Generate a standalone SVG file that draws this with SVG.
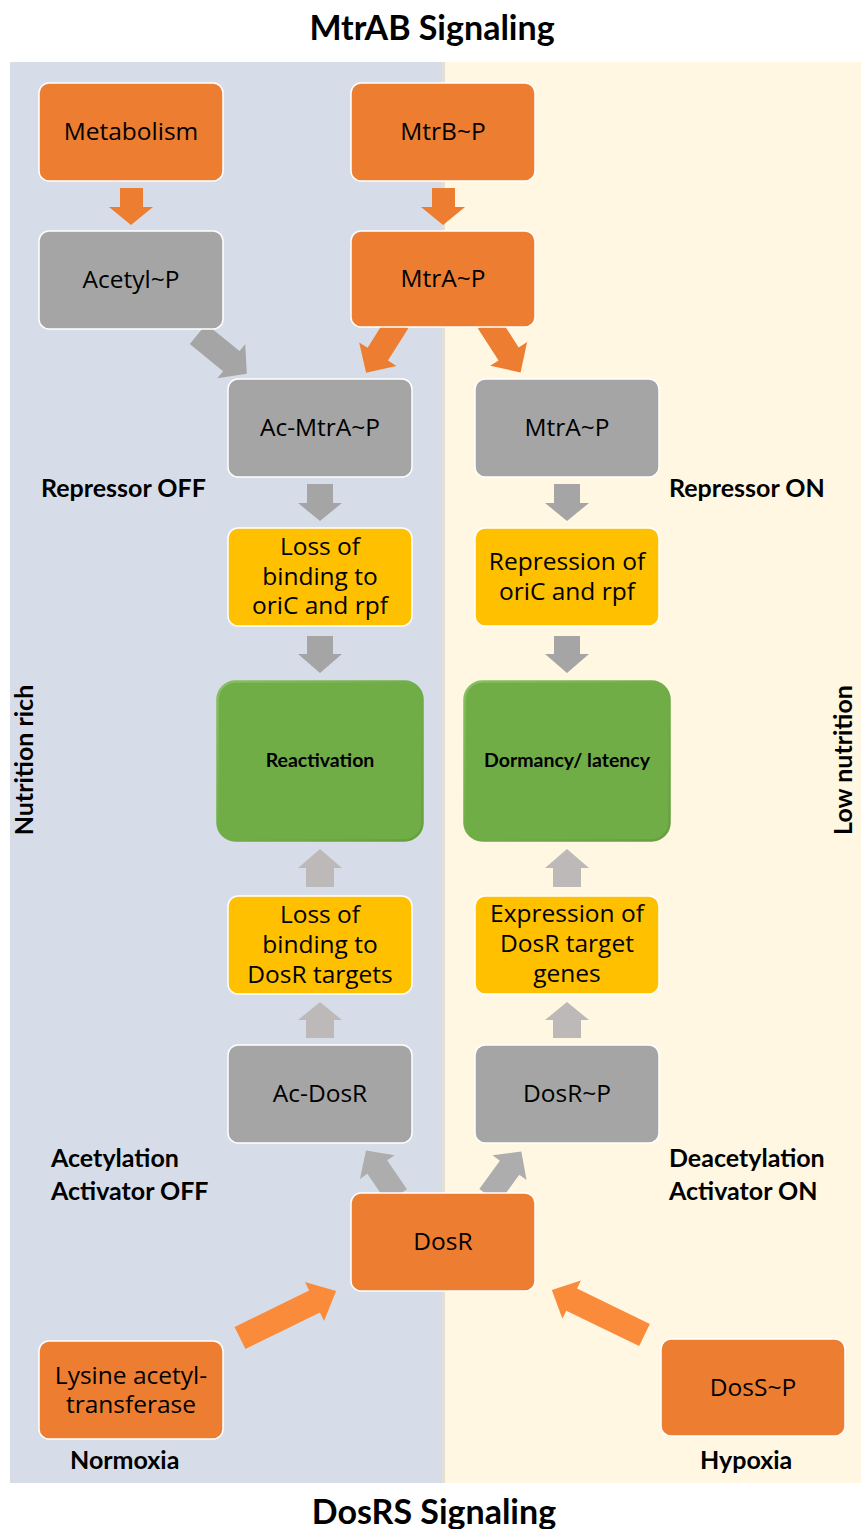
<svg xmlns="http://www.w3.org/2000/svg" width="861" height="1529" viewBox="0 0 861 1529">
<defs>
<linearGradient id="bevel" x1="0" y1="0" x2="1" y2="1">
<stop offset="0" stop-color="#86C060"/>
<stop offset="0.5" stop-color="#70AD47"/>
<stop offset="1" stop-color="#64A03C"/>
</linearGradient>
</defs>
<style>
.box{stroke:#FFFFFF;stroke-width:1.5}
.or{fill:#ED7D31}
.gy{fill:#A5A5A5}
.yl{fill:#FFC000}
.gn{fill:#70AD47;stroke:url(#bevel);stroke-width:2.5}
.t{font-family:"Open Sans","Liberation Sans",sans-serif;font-size:24.5px;fill:#000;text-anchor:middle}
.tb{font-family:Lato,"Liberation Sans",sans-serif;font-weight:bold;font-size:19.5px;fill:#000;text-anchor:middle}
.lb{font-family:Lato,"Liberation Sans",sans-serif;font-weight:bold;font-size:25px;fill:#000}
.title{font-family:Lato,"Liberation Sans",sans-serif;font-weight:bold;font-size:34px;fill:#000;text-anchor:middle}
.ao{fill:#ED7D31}
.ao2{fill:#F98B3B}
.ag{fill:#A5A5A5}
.ag2{fill:#ADADAD}
.au{fill:#BDB9B9}
</style>
<rect x="0" y="0" width="861" height="1529" fill="#FFFFFF"/>
<g id="panels">
<rect x="10" y="62" width="434" height="1421" fill="#D7DDE8"/>
<rect x="444" y="62" width="417" height="1421" fill="#FFF7E2"/>
<rect x="442" y="62" width="3" height="1421" fill="#E3E1D6"/>
</g>
<text class="title" x="432" y="40">MtrAB Signaling</text>
<text class="title" x="434" y="1524">DosRS Signaling</text>
<text class="lb" transform="translate(33,760) rotate(-90)" text-anchor="middle">Nutrition rich</text>
<text class="lb" transform="translate(852,760) rotate(-90)" text-anchor="middle">Low nutrition</text>
<text class="lb" x="41" y="497">Repressor OFF</text>
<text class="lb" x="669" y="497">Repressor ON</text>
<text class="lb" x="51" y="1167">Acetylation</text>
<text class="lb" x="51" y="1200">Activator OFF</text>
<text class="lb" x="669" y="1167">Deacetylation</text>
<text class="lb" x="669" y="1200">Activator ON</text>
<text class="lb" x="70" y="1469">Normoxia</text>
<text class="lb" x="700" y="1469">Hypoxia</text>
<g id="connectors">
<polygon class="ao" points="120,188 143,188 143,207 153,207 131,225 109,207 120,207"/>
<polygon class="ao" points="432,188 455,188 455,207 465,207 443,225 421,207 432,207"/>
<polygon class="ag" transform="translate(198,334) rotate(39.2)" points="0,-13 43,-13 43,-22 63,0 43,22 43,13 0,13"/>
<polygon class="ao" transform="translate(398,322) rotate(122.1)" points="0,-12 38,-12 38,-22 60,0 38,22 38,12 0,12"/>
<polygon class="ao" transform="translate(488,322) rotate(57.1)" points="0,-12 38,-12 38,-22 60,0 38,22 38,12 0,12"/>
<polygon class="ag" points="307,484 333,484 333,503 342,503 320,521 298,503 307,503"/>
<polygon class="ag" points="554,484 580,484 580,503 589,503 567,521 545,503 554,503"/>
<polygon class="ag" points="307,636 333,636 333,654 342,654 320,673 298,654 307,654"/>
<polygon class="ag" points="554,636 580,636 580,654 589,654 567,673 545,654 554,654"/>
<polygon class="au" points="306,887 334,887 334,868 342,868 320,849 298,868 306,868"/>
<polygon class="au" points="553,887 581,887 581,868 589,868 567,849 545,868 553,868"/>
<polygon class="au" points="306,1038 334,1038 334,1020 342,1020 320,1002 298,1020 306,1020"/>
<polygon class="au" points="553,1038 581,1038 581,1020 589,1020 567,1002 545,1020 553,1020"/>
<polygon class="ag2" transform="translate(397,1196) rotate(-124.3)" points="0,-12 35,-12 35,-21 55,0 35,21 35,12 0,12"/>
<polygon class="ag2" transform="translate(489,1196) rotate(-54)" points="0,-12 35,-12 35,-21 55,0 35,21 35,12 0,12"/>
<polygon class="ao2" transform="translate(240,1338) rotate(-26.1)" points="0,-12.3 83,-12.3 83,-21.7 107,0 83,21.7 83,12.3 0,12.3"/>
<polygon class="ao2" transform="translate(644.5,1335) rotate(-154.1)" points="0,-12.3 81,-12.3 81,-21.2 103,0 81,21.2 81,12.3 0,12.3"/>
</g>
<g id="metabolism"><rect class="box or" x="39" y="83" width="184" height="98" rx="10"/><text class="t" x="131" y="140">Metabolism</text></g>
<g id="mtrb-p"><rect class="box or" x="351" y="83" width="184" height="98" rx="10"/><text class="t" x="443" y="140">MtrB~P</text></g>
<g id="acetyl-p"><rect class="box gy" x="39" y="231" width="184" height="98" rx="10"/><text class="t" x="131" y="288">Acetyl~P</text></g>
<g id="mtra-p-orange"><rect class="box or" x="351" y="231" width="184" height="96" rx="10"/><text class="t" x="443" y="287">MtrA~P</text></g>
<g id="ac-mtra-p"><rect class="box gy" x="228" y="379" width="184" height="98" rx="10"/><text class="t" x="320" y="436">Ac-MtrA~P</text></g>
<g id="mtra-p-gray"><rect class="box gy" x="475" y="379" width="184" height="98" rx="10"/><text class="t" x="567" y="436">MtrA~P</text></g>
<g id="loss-oric"><rect class="box yl" x="228" y="528" width="184" height="98" rx="10"/><text class="t" x="320" y="555">Loss of</text><text class="t" x="320" y="585">binding to</text><text class="t" x="320" y="614">oriC and rpf</text></g>
<g id="repression"><rect class="box yl" x="475" y="528" width="184" height="98" rx="10"/><text class="t" x="567" y="570">Repression of</text><text class="t" x="567" y="600">oriC and rpf</text></g>
<g id="reactivation"><rect class="gn" x="217.5" y="681.5" width="205" height="159" rx="18"/><text class="tb" x="320" y="767">Reactivation</text></g>
<g id="dormancy"><rect class="gn" x="464.5" y="681.5" width="205" height="159" rx="18"/><text class="tb" x="567" y="767">Dormancy/ latency</text></g>
<g id="loss-dosr"><rect class="box yl" x="228" y="896" width="184" height="98" rx="10"/><text class="t" x="320" y="923">Loss of</text><text class="t" x="320" y="953">binding to</text><text class="t" x="320" y="983">DosR targets</text></g>
<g id="expression"><rect class="box yl" x="475" y="896" width="184" height="98" rx="10"/><text class="t" x="567" y="922">Expression of</text><text class="t" x="567" y="952">DosR target</text><text class="t" x="567" y="982">genes</text></g>
<g id="ac-dosr"><rect class="box gy" x="228" y="1045" width="184" height="98" rx="10"/><text class="t" x="320" y="1102">Ac-DosR</text></g>
<g id="dosr-p"><rect class="box gy" x="475" y="1045" width="184" height="98" rx="10"/><text class="t" x="567" y="1102">DosR~P</text></g>
<g id="dosr"><rect class="box or" x="351" y="1193" width="184" height="98" rx="10"/><text class="t" x="443" y="1250">DosR</text></g>
<g id="lysine"><rect class="box or" x="39" y="1341" width="184" height="98" rx="10"/><text class="t" x="131" y="1384">Lysine acetyl-</text><text class="t" x="131" y="1413">transferase</text></g>
<g id="doss-p"><rect class="box or" x="661" y="1339" width="184" height="97" rx="10"/><text class="t" x="753" y="1396">DosS~P</text></g>
</svg>
